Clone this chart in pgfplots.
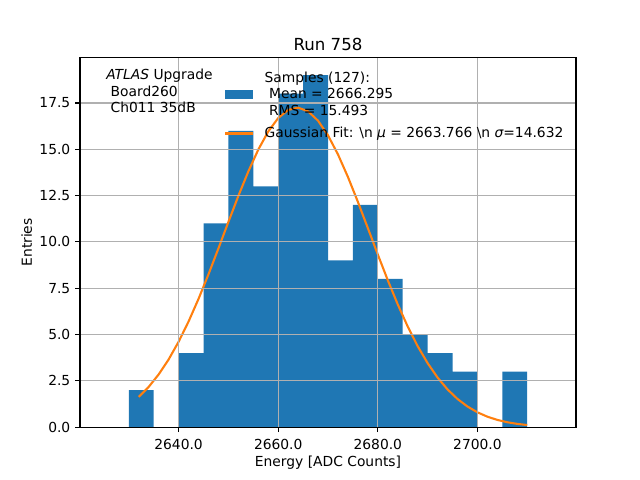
\documentclass[border=0pt]{standalone}
\usepackage{fontspec}
\setmainfont{DejaVu Sans}
\usepackage{pgfplots}
\pgfplotsset{compat=1.18}
\definecolor{c0}{HTML}{1F77B4}
\definecolor{c1}{HTML}{FF7F0E}
\definecolor{gridc}{HTML}{B0B0B0}
\begin{document}
\begin{tikzpicture}
\path[use as bounding box] (-0.8in,-0.528in) rectangle (5.6in,4.272in);
\begin{axis}[
  at={(0,0)}, anchor=south west,
  scale only axis, width=4.96in, height=3.696in,
  axis on top,
  xmin=2620.2, xmax=2719.8, ymin=0, ymax=19.95,
  xtick={2640,2660,2680,2700},
  ytick={0,2.5,5,7.5,10,12.5,15,17.5},
  xtick pos=bottom, ytick pos=left,
  tick align=outside,
  major tick length=3.5pt,
  tick style={black, line width=0.8pt},
  axis line style={black, line width=0.8pt},
  grid=major,
  major grid style={gridc, line width=0.8pt},
  tick label style={font=\fontsize{10}{12}\selectfont},
  xticklabel style={yshift=-1.5pt, /pgf/number format/.cd, fixed, fixed zerofill, precision=1, 1000 sep={}, assume math mode=true},
  yticklabel style={/pgf/number format/.cd, fixed, fixed zerofill, precision=1, 1000 sep={}, assume math mode=true},
  label style={font=\fontsize{10}{12}\selectfont},
  xlabel={Energy [ADC Counts]},
  xlabel style={yshift=2.5pt},
  ylabel={Entries},
  ylabel style={yshift=-1.5pt},
  title={Run 758},
  title style={font=\fontsize{12}{14.4}\selectfont, anchor=base, yshift=-1.2pt},
  legend style={draw=none, fill=none, at={(0.282,0.97)}, anchor=north west,
    font=\fontsize{10}{12}\selectfont, nodes={inner sep=0pt}, column sep=7.5pt, row sep=7pt,
    cells={align=left}},
  legend cell align=left,
]
\addplot[ybar interval, fill=c0, draw=none,
  legend image code/.code={\fill[c0] (0pt,-3.4pt) rectangle (20.2pt,3.4pt);}]
  coordinates {(2630,2) (2635,0) (2640,4) (2645,11) (2650,16) (2655,13) (2660,18)
  (2665,19) (2670,9) (2675,12) (2680,8) (2685,5) (2690,4) (2695,3) (2700,0)
  (2705,3) (2710,3)};
\addlegendentry{Samples (127):\\\ Mean = 2666.295\\\ RMS = 15.493}
\addplot[c1, line width=1.5pt, no marks,
  legend image code/.code={\draw[c1, line width=1.5pt] (0pt,0pt) -- (20.2pt,0pt);}]
  coordinates {(2632,1.635) (2634,2.178) (2636,2.850) (2638,3.659) (2640,4.612)
  (2642,5.705) (2644,6.927) (2646,8.254) (2648,9.653) (2650,11.081) (2652,12.484)
  (2654,13.805) (2656,14.984) (2658,15.961) (2660,16.688) (2662,17.125) (2664,17.248)
  (2666,17.050) (2668,16.543) (2670,15.753) (2672,14.724) (2674,13.507) (2676,12.161)
  (2678,10.747) (2680,9.321) (2682,7.935) (2684,6.630) (2686,5.437) (2688,4.376)
  (2690,3.458) (2692,2.680) (2694,2.040) (2696,1.524) (2698,1.117) (2700,0.804)
  (2702,0.568) (2704,0.393) (2706,0.268) (2708,0.179) (2710,0.117)};
\addlegendentry{Gaussian Fit: \textbackslash n {\itshape μ} = 2663.766 \textbackslash n {\itshape σ}=14.632}
\end{axis}
\node[anchor=base west, font=\fontsize{10}{12}\selectfont, inner sep=0pt] at (0.26in,3.476in) {\textit{ATLAS} Upgrade};
\node[anchor=base west, font=\fontsize{10}{12}\selectfont, inner sep=0pt] at (0.26in,3.309in) {\ Board260};
\node[anchor=base west, font=\fontsize{10}{12}\selectfont, inner sep=0pt] at (0.26in,3.142in) {\ Ch011 35dB};
\end{tikzpicture}
\end{document}
